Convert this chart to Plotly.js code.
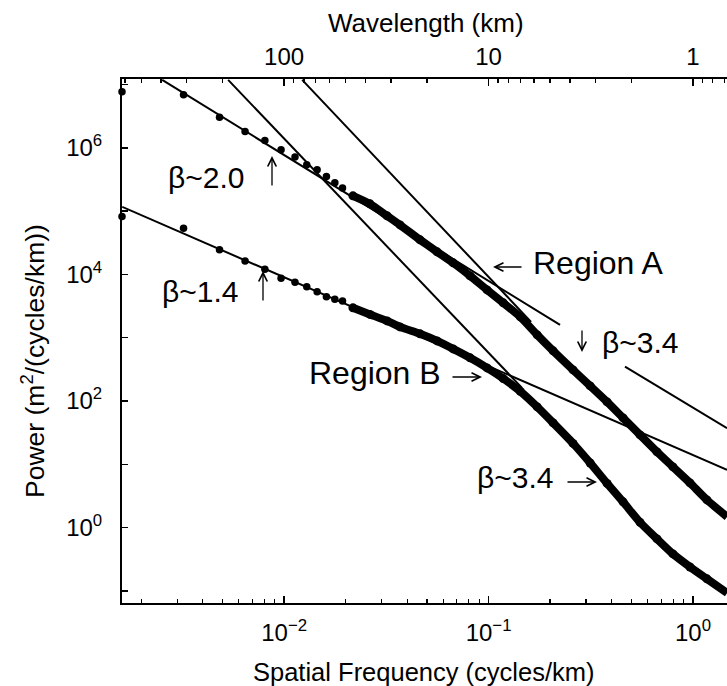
<!DOCTYPE html>
<html>
<head>
<meta charset="utf-8">
<script src="https://cdn.plot.ly/plotly-3.0.1.min.js"></script>
<style>html,body{margin:0;padding:0;background:#fff;}#chart{width:727px;height:686px;}</style>
</head>
<body>
<div id="chart"></div>
<script>
// Discrete low-frequency spectral estimates (cycles/km)
const freqLow = [0.00161, 0.00322, 0.00483, 0.00644, 0.00805, 0.00966, 0.0113, 0.0129, 0.0145, 0.0161, 0.0177, 0.0193];
const upperLow = [7.64e6, 6.85e6, 3.04e6, 1.80e6, 1.30e6, 9.27e5, 7.18e5, 5.37e5, 4.48e5, 3.51e5, 2.79e5, 2.32e5];
const lowerLow = [8.19e4, 5.37e4, 2.44e4, 1.63e4, 1.20e4, 8.65e3, 7.48e3, 6.35e3, 5.30e3, 4.42e3, 4.03e3, 3.81e3];

// Dense part of the spectra
const freqDense = [0.0217, 0.0263, 0.0319, 0.0369, 0.0462, 0.0560, 0.0671, 0.0812, 0.0983, 0.118, 0.143, 0.173, 0.207, 0.259, 0.314, 0.380, 0.455, 0.551, 0.667, 0.798, 0.967, 1.17, 1.47];
const upperDense = [1.74e5, 1.30e5, 8.40e4, 6.05e4, 3.51e4, 2.27e4, 1.52e4, 9.47e3, 5.69e3, 3.55e3, 2.13e3, 1.107e3, 619, 310, 173, 96.8, 54.1, 29.1, 15.7, 9.10, 5.08, 2.74, 1.48];
const lowerDense = [2.96e3, 2.33e3, 1.84e3, 1.48e3, 1.15e3, 889, 665, 480, 333, 226, 142, 80.7, 45.1, 21.4, 10.5, 4.99, 2.55, 1.21, 0.663, 0.384, 0.239, 0.155, 0.093];

// Power-law fit lines (end points)
const fitA_x = [0.002532, 0.2237], fitA_y = [1.18e7, 1.59e3];   // beta ~ 2.0 (upper)
const fitB_x = [0.005322, 0.1458], fitB_y = [1.18e7, 161];      // beta ~ 3.4 (Region B)
const fitC_x = [0.01225, 0.1614],  fitC_y = [1.18e7, 1.78e3];   // beta ~ 3.4 (Region A)
const fitD_x = [0.001614, 1.467],  fitD_y = [1.165e5, 8.16];    // beta ~ 1.4 (lower)
const fitE_x = [0.465, 1.467],     fitE_y = [349, 37.2];

// Axis ticks
const xTickVals = [0.01, 0.1, 1];
const xTickText = ['10<sup>\u22122</sup>', '10<sup>\u22121</sup>', '10<sup>0</sup>'];
const xMinorVals = [0.002,0.003,0.004,0.005,0.006,0.007,0.008,0.009,0.02,0.03,0.04,0.05,0.06,0.07,0.08,0.09,0.2,0.3,0.4,0.5,0.6,0.7,0.8,0.9];
const yTickVals = [1, 100, 1e4, 1e6];
const yTickText = ['10<sup>0</sup>', '10<sup>2</sup>', '10<sup>4</sup>', '10<sup>6</sup>'];
const yMinorVals = [0.1, 10, 1e3, 1e5, 1e7];
const wlTickVals = [1, 10, 100];
const wlTickText = ['1', '10', '100'];
const wlMinorVals = [0.7,0.8,0.9,2,3,4,5,6,7,8,9,20,30,40,50,60,70,80,90,200,300,400,500,600];

const FONT = 'Liberation Sans, Arial, Helvetica, sans-serif';
const fMin = 0.00161, fMax = 1.467;

const dotTrace = (x, y) => ({x, y, type: 'scatter', mode: 'markers', cliponaxis: false,
  marker: {color: '#000', size: 7.5}, showlegend: false, hoverinfo: 'skip'});
const denseTrace = (x, y) => ({x, y, type: 'scatter', mode: 'lines+markers', cliponaxis: true,
  line: {color: '#000', width: 8, shape: 'spline', smoothing: 0.6}, marker: {color: '#000', size: 9}, showlegend: false, hoverinfo: 'skip'});
const fitTrace = (x, y) => ({x, y, type: 'scatter', mode: 'lines',
  line: {color: '#000', width: 2}, showlegend: false, hoverinfo: 'skip'});

const traces = [
  fitTrace(fitA_x, fitA_y), fitTrace(fitB_x, fitB_y), fitTrace(fitC_x, fitC_y),
  fitTrace(fitD_x, fitD_y), fitTrace(fitE_x, fitE_y),
  dotTrace(freqLow, upperLow), denseTrace(freqDense, upperDense),
  dotTrace(freqLow, lowerLow), denseTrace(freqDense, lowerDense),
  {x: wlTickVals, y: [null, null, null], xaxis: 'x2', yaxis: 'y', type: 'scatter', mode: 'markers', showlegend: false, hoverinfo: 'skip'}
];

const px2x = p => (p - 122) / 605;
const px2y = p => (603 - p) / 524;
const ann = (text, xl, yc, size) => ({text, x: px2x(xl - 2), y: px2y(yc), xref: 'paper', yref: 'paper',
  xanchor: 'left', yanchor: 'middle', showarrow: false, font: {family: FONT, size: size, color: '#000'}});
// arrow: head at (hx, hy) in pixels, tail offset (dx, dy) in pixels
const arrow = (hx, hy, dx, dy) => ({text: '', x: px2x(hx), y: px2y(hy), xref: 'paper', yref: 'paper',
  showarrow: true, ax: dx, ay: dy, arrowhead: 5, arrowsize: 1.3, arrowwidth: 1.3, arrowcolor: '#000', standoff: 0, startstandoff: 0});

const layout = {
  width: 727, height: 686,
  margin: {l: 122, r: 0, t: 79, b: 83},
  paper_bgcolor: '#fff', plot_bgcolor: '#fff',
  font: {family: FONT, color: '#000'},
  xaxis: {
    type: 'log', range: [Math.log10(fMin), Math.log10(fMax)],
    tickmode: 'array', tickvals: xTickVals, ticktext: xTickText,
    ticks: 'inside', ticklen: 7, tickwidth: 1.5, tickcolor: '#000', ticklabelstandoff: 7,
    minor: {tickmode: 'array', tickvals: xMinorVals, ticks: 'inside', ticklen: 4, tickwidth: 1.2, tickcolor: '#000', showgrid: false},
    showline: true, linewidth: 2, linecolor: '#000', showgrid: false, zeroline: false,
    tickfont: {family: FONT, size: 24, color: '#000'}
  },
  xaxis2: {
    type: 'log', overlaying: 'x', side: 'top', anchor: 'y',
    range: [Math.log10(1 / fMin), Math.log10(1 / fMax)],
    tickmode: 'array', tickvals: wlTickVals, ticktext: wlTickText,
    ticks: 'inside', ticklen: 7, tickwidth: 1.5, tickcolor: '#000', ticklabelstandoff: 2,
    minor: {tickmode: 'array', tickvals: wlMinorVals, ticks: 'inside', ticklen: 4, tickwidth: 1.2, tickcolor: '#000', showgrid: false},
    showline: true, linewidth: 2, linecolor: '#000', showgrid: false, zeroline: false,
    tickfont: {family: FONT, size: 24, color: '#000'}
  },
  yaxis: {
    type: 'log', range: [Math.log10(0.0644), Math.log10(1.22e7)],
    tickmode: 'array', tickvals: yTickVals, ticktext: yTickText,
    ticks: 'inside', ticklen: 6, tickwidth: 1.5, tickcolor: '#000', ticklabelstandoff: 13,
    minor: {tickmode: 'array', tickvals: yMinorVals, ticks: 'inside', ticklen: 6, tickwidth: 1.5, tickcolor: '#000', showgrid: false},
    showline: true, linewidth: 2, linecolor: '#000', showgrid: false, zeroline: false,
    tickfont: {family: FONT, size: 24, color: '#000'}
  },
  annotations: [
    ann('\u03b2~2.0', 168, 177, 30),
    ann('\u03b2~1.4', 162, 291, 30),
    ann('Region A', 533, 263, 32),
    ann('\u03b2~3.4', 602, 342, 30),
    ann('Region B', 309, 373, 32),
    ann('\u03b2~3.4', 477, 477, 30),
    arrow(272, 156, 0, 31),
    arrow(263, 271, 0, 31),
    arrow(493, 267, 30, 0),
    arrow(582, 352, 0, -23),
    arrow(482, 377, -31, 0),
    arrow(597, 482, -31, 0),
    {text: 'Spatial Frequency (cycles/km)', x: px2x(424), y: px2y(672), xref: 'paper', yref: 'paper',
     xanchor: 'center', yanchor: 'middle', showarrow: false, font: {family: FONT, size: 25.5, color: '#000'}},
    {text: 'Wavelength (km)', x: px2x(426), y: px2y(23), xref: 'paper', yref: 'paper',
     xanchor: 'center', yanchor: 'middle', showarrow: false, font: {family: FONT, size: 26, color: '#000'}},
    {text: 'Power (m<sup>2</sup>/(cycles/km))', x: px2x(33), y: px2y(361), xref: 'paper', yref: 'paper',
     xanchor: 'center', yanchor: 'middle', textangle: -90, showarrow: false, font: {family: FONT, size: 26.5, color: '#000'}}
  ]
};

Plotly.newPlot('chart', traces, layout, {staticPlot: true, displayModeBar: false});
</script>
</body>
</html>
